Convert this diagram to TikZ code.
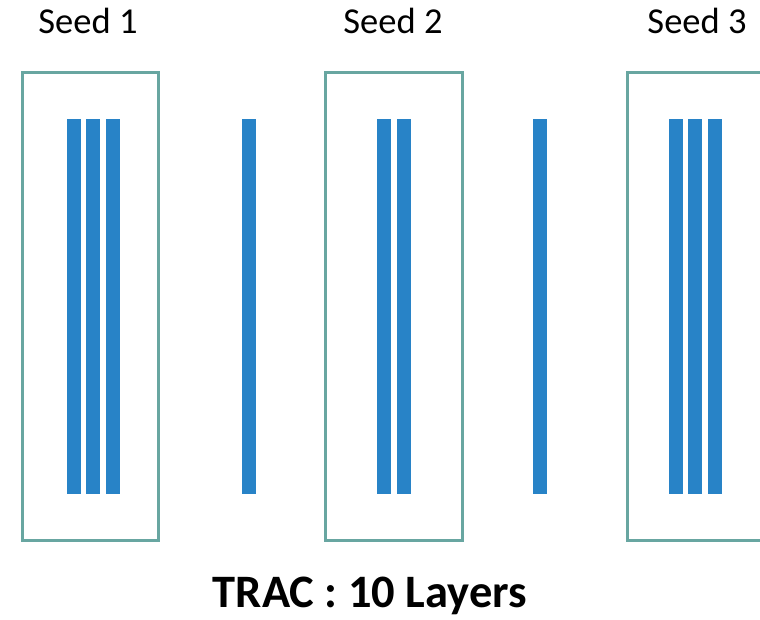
\documentclass[tikz,border=0pt]{standalone}
\usepackage{fontspec}
\setmainfont{Carlito}
\definecolor{barblue}{RGB}{40,131,199}
\definecolor{boxteal}{RGB}{104,166,161}
\tikzset{
  layer/.style={fill=barblue, draw=none},
  seedbox/.style={draw=boxteal, line width=3pt},
  seedlabel/.style={font=\fontsize{36.5}{40}\selectfont, anchor=base},
  titlelabel/.style={font=\fontsize{46.5}{52}\selectfont\bfseries, anchor=base}
}
\begin{document}
\begin{tikzpicture}[x=1pt,y=-1pt]
\useasboundingbox (0,0) rectangle (760,620);
\clip (0,0) rectangle (760,620);
% seed boxes
\draw[seedbox] (22,73) rectangle (158,540);
\draw[seedbox] (325,73) rectangle (462,540);
\draw[seedbox] (627,73) rectangle (764,540);
% layers
\foreach \x in {67,86,106,242,377,397,533,669,688,708}
  \fill[layer] (\x,119) rectangle ++(14,375);
% labels
\node[seedlabel] (s1) at (88,34) {Seed 1};
\node[seedlabel] (s2) at (393,34) {Seed 2};
\node[seedlabel] (s3) at (697,34) {Seed 3};
\node[titlelabel] (t) at (370,607) {TRAC : 10 Layers};
\end{tikzpicture}
\end{document}
